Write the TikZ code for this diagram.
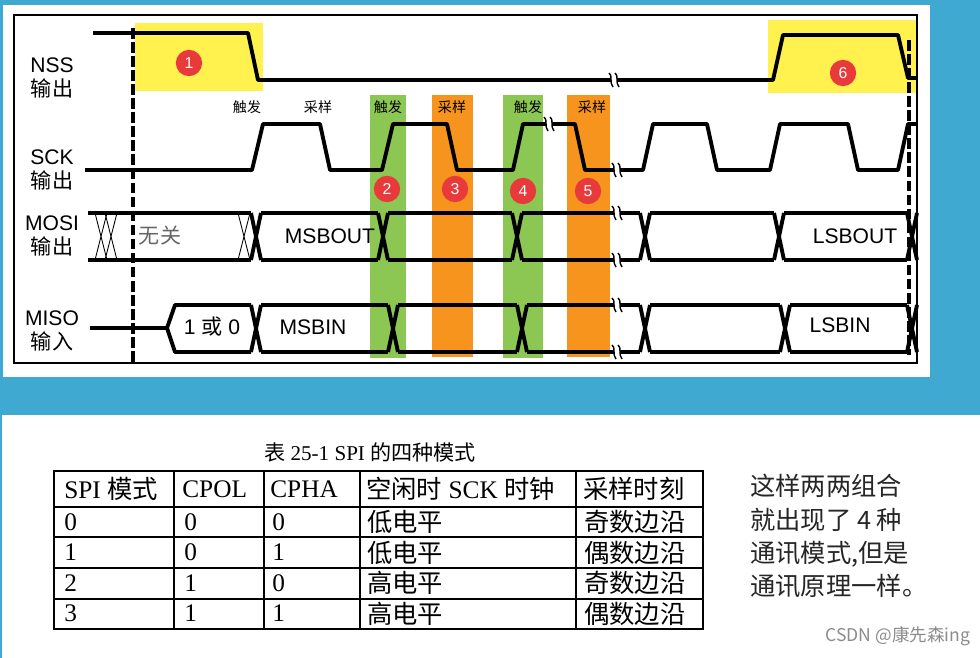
\documentclass[tikz,border=0pt]{standalone}
\usepackage{fontspec}
\setmainfont{Liberation Serif}
\setsansfont{Liberation Sans}
\newfontfamily\cjk{Noto Sans CJK SC}
\usetikzlibrary{positioning}
\definecolor{bgblue}{HTML}{3FA9D2}
\definecolor{bandgreen}{HTML}{8CC653}
\definecolor{bandorange}{HTML}{F7941D}
\definecolor{boxyellow}{HTML}{FFF24F}
\definecolor{dotred}{HTML}{E83A3A}
\tikzset{
  wave/.style={line width=2.2pt, line join=round},
  hatch/.style={line width=0.5pt},
  siglabel/.style={font=\sffamily\large, align=center, inner sep=0pt},
  edgelabel/.style={font=\cjk\footnotesize, inner sep=0pt},
  buslabel/.style={font=\sffamily\large, inner sep=0pt},
  numdot/.style={circle, fill=dotred, text=white, font=\sffamily\small, inner sep=0pt, minimum size=15pt},
  cell/.style={font=\Large, anchor=west, inner sep=0pt},
}
% break mark on a line
\newcommand{\brk}[2]{%
  \fill[white] (#1-3,#2-9) rectangle (#1+3,#2+9);
  \draw[line width=0.8pt] (#1-5,#2-7) .. controls (#1-1,#2-5) and (#1-5,#2+3) .. (#1-1,#2+7);
  \draw[line width=0.8pt] (#1+1,#2-7) .. controls (#1+5,#2-5) and (#1+1,#2+3) .. (#1+5,#2+7);
}
\begin{document}
\begin{tikzpicture}[x=0.02cm, y=-0.02cm]
  % background and panels
  \fill[bgblue] (0,0) rectangle (980,658);
  \fill[white] (3,5) rectangle (930,377);
  \fill[white] (2,415) rectangle (980,658);
  \draw[line width=0.8pt] (14,15) rectangle (917,363);

  % highlight boxes and bands
  \fill[boxyellow] (135,23) rectangle (263,91);
  \fill[boxyellow] (768,20) rectangle (916,93);
  \fill[bandgreen] (370,95) rectangle (406,358);
  \fill[bandgreen] (503,95) rectangle (543,358);
  \fill[bandorange] (432,95) rectangle (473,357);
  \fill[bandorange] (567,95) rectangle (610,357);

  % dashed markers
  \draw[line width=2pt, dash pattern=on 6pt off 2pt] (133,28) -- (133,363);
  \draw[line width=2pt, dash pattern=on 6pt off 2pt] (909,40) -- (909,355);

  % signal names
  \node[siglabel] (nss) at (52,78) {NSS\\{\cjk 输出}};
  \node[siglabel] (sck) at (52,170) {SCK\\{\cjk 输出}};
  \node[siglabel] (mosi) at (52,236) {MOSI\\{\cjk 输出}};
  \node[siglabel] (miso) at (52,331) {MISO\\{\cjk 输入}};

  % NSS
  \draw[wave] (93,33) -- (248,33) -- (258,80) -- (773,80) -- (783,35) -- (898,35) -- (908,78) -- (917,78);
  \brk{614}{80}

  % SCK
  \draw[wave] (85,170) -- (252,170) -- (263,124) -- (320,124) -- (330,170) -- (382,170)
    -- (393,124) -- (447,124) -- (457,170) -- (513,170) -- (523,124) -- (575,124)
    -- (585,170) -- (643,170) -- (653,124) -- (707,124) -- (717,170) -- (770,170)
    -- (780,124) -- (848,124) -- (858,170) -- (898,170) -- (908,124) -- (917,124);
  \brk{549}{124}
  \brk{617}{170}

  % MOSI
  \draw[wave] (88,213) -- (251,213);
  \draw[wave] (88,260) -- (251,260);
  \foreach \a in {95,105,238} \draw[hatch] (\a,213) -- (\a+12,260) (\a,260) -- (\a+12,213);
  \foreach \t in {256,383,517,645,779,912}
    \draw[wave] (\t-5,213) -- (\t+5,260) (\t-5,260) -- (\t+5,213);
  \foreach \a/\b in {261/378,388/512,522/640,650/774,784/907}
    \draw[wave] (\a,213) -- (\b,213) (\a,260) -- (\b,260);
  \brk{617}{213}
  \brk{617}{260}

  % MISO
  \draw[wave] (90,328) -- (167,328) -- (175,305) -- (251,305);
  \draw[wave] (167,328) -- (175,352) -- (251,352);
  \foreach \t in {256,393,522,645,785,912}
    \draw[wave] (\t-5,305) -- (\t+5,352) (\t-5,352) -- (\t+5,305);
  \foreach \a/\b in {261/388,398/517,527/640,650/780,790/907}
    \draw[wave] (\a,305) -- (\b,305) (\a,352) -- (\b,352);
  \brk{617}{305}
  \brk{617}{352}

  % edge labels
  \node[edgelabel] (t1) at (247,107) {触发};
  \node[edgelabel] (s1) at (318,107) {采样};
  \node[edgelabel] (t2) at (388,107) {触发};
  \node[edgelabel] (s2) at (452,107) {采样};
  \node[edgelabel] (t3) at (528,107) {触发};
  \node[edgelabel] (s3) at (592,107) {采样};

  % numbered dots
  \node[numdot] (d1) at (189,63) {1};
  \node[numdot] (d2) at (387,189) {2};
  \node[numdot] (d3) at (455,189) {3};
  \node[numdot] (d4) at (523,191) {4};
  \node[numdot] (d5) at (588,191) {5};
  \node[numdot] (d6) at (843,73) {6};

  % bus labels
  \node[buslabel, text=black!60] (dc) at (160,236) {\cjk 无关};
  \node[buslabel] (msbout) at (330,236) {MSBOUT};
  \node[buslabel] (lsbout) at (855,236) {LSBOUT};
  \node[buslabel] (any) at (212,327) {1 {\cjk 或} 0};
  \node[buslabel] (msbin) at (313,327) {MSBIN};
  \node[buslabel] (lsbin) at (840,325) {LSBIN};

  % table
  \node[font=\large] (cap) at (370,452) {{\cjk 表} 25-1 SPI {\cjk 的四种模式}};
  \draw[line width=0.8pt] (54,471) rectangle (703,629);
  \foreach \y in {507,537,568,599} \draw[line width=0.8pt] (54,\y) -- (703,\y);
  \foreach \x in {174,264,360,576} \draw[line width=0.8pt] (\x,471) -- (\x,629);
  \node[cell] (h1) at (64,489) {SPI {\cjk 模式}};
  \node[cell] (h2) at (182,489) {CPOL};
  \node[cell] (h3) at (270,489) {CPHA};
  \node[cell] (h4) at (366,489) {{\cjk 空闲时} SCK {\cjk 时钟}};
  \node[cell] (h5) at (583,489) {\cjk 采样时刻};
  \foreach \m/\p/\h/\i/\s [count=\r from 0] in {0/0/0/低电平/奇数边沿,1/0/1/低电平/偶数边沿,2/1/0/高电平/奇数边沿,3/1/1/高电平/偶数边沿}{
    \node[cell] (m\r) at (64,522+30.5*\r) {\m};
    \node[cell] (p\r) at (184,522+30.5*\r) {\p};
    \node[cell] (c\r) at (272,522+30.5*\r) {\h};
    \node[cell] (i\r) at (367,522+30.5*\r) {\cjk\i};
    \node[cell] (s\r) at (584,522+30.5*\r) {\cjk\s};
  }

  % side note
  \node[font=\cjk\Large, align=left, anchor=north west, inner sep=0pt, text=black!85] (note) at (750,474)
    {这样两两组合\\[1pt]就出现了 4 种\\[1pt]通讯模式,但是\\[1pt]通讯原理一样。};
  \node[font=\cjk\normalsize, text=black!45] (mark) at (898,636) {CSDN @康先森ing};
\end{tikzpicture}
\end{document}
